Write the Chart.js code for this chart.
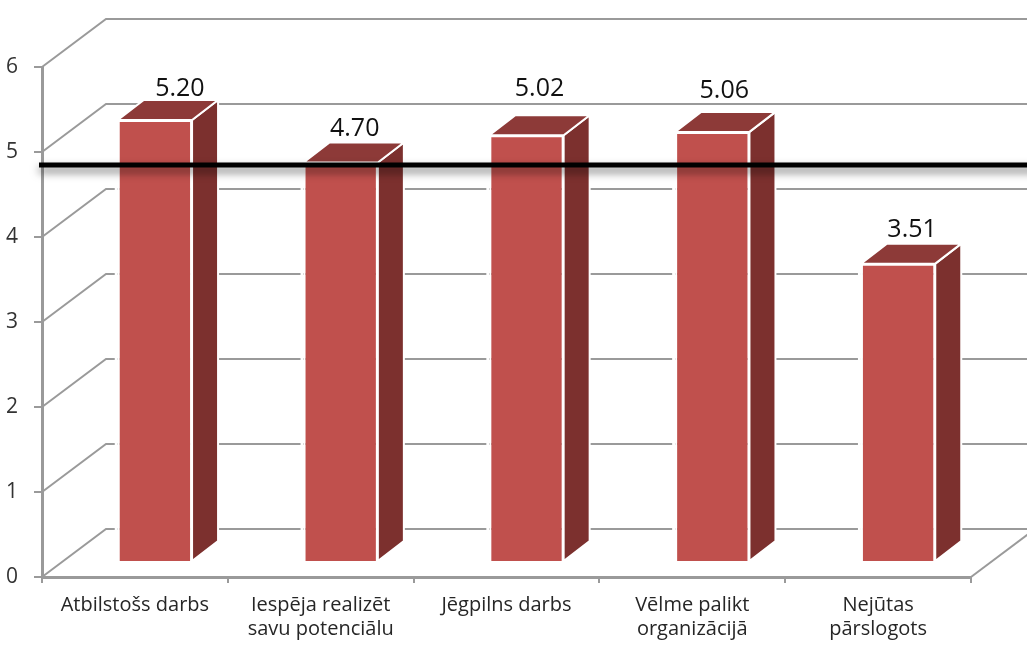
<!DOCTYPE html>
<html>
<head>
<meta charset="utf-8">
<style>
html, body { margin: 0; padding: 0; background: #fff; overflow: hidden; }
canvas { display: block; }
</style>
<script src="https://cdn.jsdelivr.net/npm/chart.js@4"></script>
</head>
<body>
<canvas id="chart" width="1027" height="657"></canvas>
<script>
const categories = [
    'Atbilstošs darbs',
    ['Iespēja realizēt', 'savu potenciālu'],
    'Jēgpilns darbs',
    ['Vēlme palikt', 'organizācijā'],
    ['Nejūtas', 'pārslogots']
];
const values = [5.20, 4.70, 5.02, 5.06, 3.51];
const meanLine = 4.67;
const yTicks = [0, 1, 2, 3, 4, 5, 6];

// fake 3D: wall depth, bar depth and how far the bars sit off the front edge
const wall = { dx: 64, dy: -48 };
const depth = { dx: 26, dy: -20 };
const shift = { dx: 20, dy: -15 };
// where each value label sits relative to its bar top
const labelOffsets = [[25, -31], [14, -34], [13, -46], [12, -41], [14, -34]];

const GREY = '#9a9a9a';

function poly(ctx, pts, fill) {
    ctx.beginPath();
    pts.forEach((p, i) => i ? ctx.lineTo(p[0], p[1]) : ctx.moveTo(p[0], p[1]));
    ctx.closePath();
    ctx.fillStyle = fill;
    ctx.fill();
    ctx.strokeStyle = '#fff';
    ctx.lineWidth = 2;
    ctx.stroke();
}

const fake3d = {
    id: 'fake3d',
    beforeDatasetsDraw(chart) {
        const ctx = chart.ctx;
        const x = chart.scales.x;
        const y = chart.scales.y;

        // back wall gridlines and their slanted side lines
        ctx.save();
        ctx.strokeStyle = GREY;
        ctx.lineWidth = 2;
        yTicks.forEach(t => {
            const py = y.getPixelForValue(t);
            ctx.beginPath();
            ctx.moveTo(x.left, py);
            ctx.lineTo(x.left + wall.dx, py + wall.dy);
            ctx.lineTo(x.right + wall.dx, py + wall.dy);
            ctx.stroke();
        });
        ctx.beginPath();
        ctx.moveTo(x.right, y.bottom);
        ctx.lineTo(x.right + wall.dx, y.bottom + wall.dy);
        ctx.stroke();
        ctx.restore();

        // side and top faces of the bars
        const meta = chart.getDatasetMeta(0);
        meta.data.forEach(bar => {
            const l = bar.x - bar.width / 2 + shift.dx;
            const r = bar.x + bar.width / 2 + shift.dx;
            const t = bar.y + shift.dy;
            const b = bar.base + shift.dy;
            ctx.save();
            ctx.fillStyle = '#fff';
            ctx.fillRect(l - 3, t, 3, b - t);
            poly(ctx, [[r, t], [r + depth.dx, t + depth.dy], [r + depth.dx, b + depth.dy], [r, b]], '#7c302e');
            poly(ctx, [[l, t], [l + depth.dx, t + depth.dy], [r + depth.dx, t + depth.dy], [r, t]], '#8d3a38');
            ctx.restore();
        });

        // the front faces are the real bars, moved in from the axis edge
        ctx.save();
        ctx.translate(shift.dx, shift.dy);
    },
    afterDatasetsDraw(chart) {
        const ctx = chart.ctx;
        ctx.restore();

        const y = chart.scales.y;
        const meta = chart.getDatasetMeta(0);

        // thick mean line with soft shadow
        const ly = y.getPixelForValue(meanLine) + shift.dy;
        ctx.save();
        ctx.shadowColor = 'rgba(0,0,0,0.55)';
        ctx.shadowBlur = 9;
        ctx.shadowOffsetY = 5;
        ctx.strokeStyle = '#000';
        ctx.lineWidth = 5;
        ctx.beginPath();
        ctx.moveTo(39, ly);
        ctx.lineTo(1040, ly);
        ctx.stroke();
        ctx.restore();

        // value labels
        ctx.save();
        ctx.font = '25px "Open Sans"';
        ctx.fillStyle = '#111';
        ctx.textAlign = 'center';
        ctx.textBaseline = 'middle';
        meta.data.forEach((bar, i) => {
            ctx.fillText(values[i].toFixed(2),
                bar.x + shift.dx + labelOffsets[i][0],
                bar.y + shift.dy + labelOffsets[i][1]);
        });
        ctx.restore();
    }
};

new Chart(document.getElementById('chart'), {
    type: 'bar',
    data: {
        labels: categories,
        datasets: [{
            data: values,
            backgroundColor: '#c0504d',
            borderColor: '#fff',
            borderWidth: 2,
            barPercentage: 0.4,
            categoryPercentage: 1,
            clip: false
        }]
    },
    options: {
        responsive: false,
        animation: false,
        layout: { padding: { top: 67, right: 56, left: 0, bottom: 0 } },
        plugins: { legend: { display: false }, tooltip: { enabled: false } },
        scales: {
            x: {
                afterFit(s) { s.height = 80; },
                border: { color: GREY, width: 3 },
                grid: { offset: true, drawOnChartArea: false, color: GREY, lineWidth: 2, tickLength: 6 },
                ticks: {
                    color: '#262626',
                    font: { family: 'Open Sans', size: 20 },
                    maxRotation: 0,
                    autoSkip: false,
                    padding: 10
                }
            },
            y: {
                min: 0,
                max: 6,
                afterFit(s) { s.width = 42; },
                border: { color: GREY, width: 3 },
                grid: { drawOnChartArea: false, color: GREY, lineWidth: 2, tickLength: 8 },
                ticks: {
                    stepSize: 1,
                    color: '#333',
                    font: { family: 'Open Sans', size: 21 },
                    padding: 16
                }
            }
        }
    },
    plugins: [fake3d]
});
</script>
</body>
</html>
